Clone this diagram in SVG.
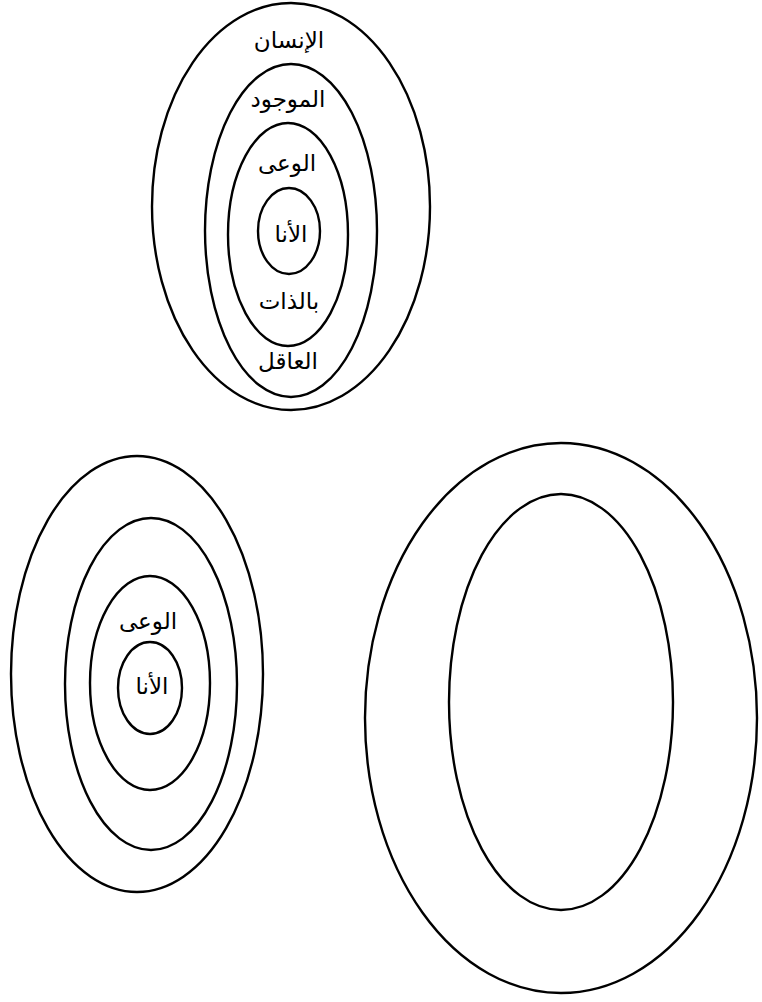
<svg xmlns="http://www.w3.org/2000/svg" width="762" height="1002" viewBox="0 0 762 1002">
<style>
.e{fill:none;stroke:#000;stroke-width:2.4}
.t{font-family:"DejaVu Sans",sans-serif;font-size:23px;fill:#000;text-anchor:middle}
</style>
<rect width="762" height="1002" fill="#fff"/>
<g id="top-group">
<g id="n-insan"><ellipse class="e" cx="291" cy="206.5" rx="139" ry="203.5"/><text class="t" x="289" y="48" direction="rtl">الإنسان</text></g>
<g id="n-mawjud"><ellipse class="e" cx="291" cy="230.5" rx="86" ry="166.5"/><text class="t" x="288" y="107" direction="rtl">الموجود</text><text class="t" x="288" y="369" direction="rtl">العاقل</text></g>
<g id="n-waey"><ellipse class="e" cx="288" cy="234.5" rx="60" ry="111.5"/><text class="t" x="287" y="171" direction="rtl">الوعى</text><text class="t" x="289" y="309" direction="rtl">بالذات</text></g>
<g id="n-ana"><ellipse class="e" cx="289" cy="231" rx="31" ry="43"/><text class="t" x="291" y="242" direction="rtl">الأنا</text></g>
</g>
<g id="left-group">
<g id="l-outer"><ellipse class="e" cx="137" cy="674" rx="126" ry="218"/></g>
<g id="l-second"><ellipse class="e" cx="151" cy="684" rx="86" ry="166"/></g>
<g id="l-waey"><ellipse class="e" cx="150" cy="683" rx="60" ry="107"/><text class="t" x="148" y="629" direction="rtl">الوعى</text></g>
<g id="l-ana"><ellipse class="e" cx="150" cy="688" rx="32" ry="46"/><text class="t" x="152" y="694" direction="rtl">الأنا</text></g>
</g>
<g id="right-group">
<g id="r-outer"><ellipse class="e" cx="561" cy="718" rx="196" ry="275"/></g>
<g id="r-inner"><ellipse class="e" cx="561" cy="702" rx="112" ry="208"/></g>
</g>
<g id="connectors"></g>
</svg>
